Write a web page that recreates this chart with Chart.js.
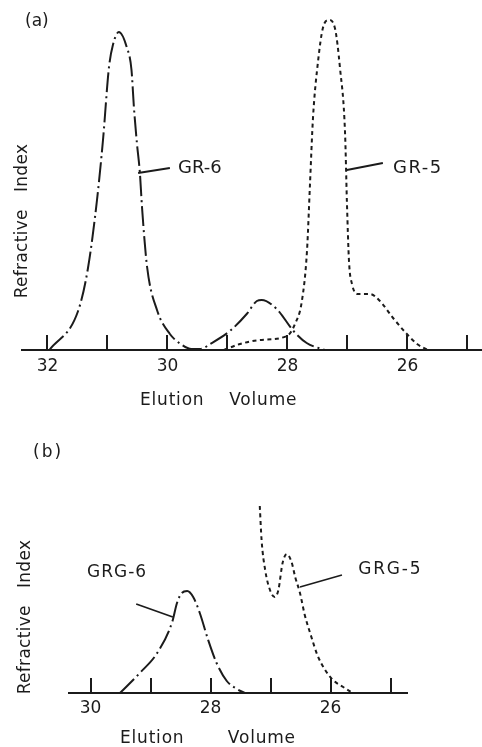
<!DOCTYPE html>
<html>
<head>
<meta charset="utf-8">
<script src="https://cdn.jsdelivr.net/npm/chart.js@4.4.1/dist/chart.umd.min.js"></script>
<style>
  html, body { margin: 0; padding: 0; background: #fff; width: 482px; height: 747px; overflow: hidden; }
  #wa { position: absolute; left: 0; top: 0; width: 482px; height: 410px; }
  #wb { position: absolute; left: 0; top: 410px; width: 482px; height: 337px; }
</style>
</head>
<body>
<div id="wa"><canvas id="ca"></canvas></div>
<div id="wb"><canvas id="cb"></canvas></div>
<script>
// ---------- Panel (a) data ----------
const gr6Vol = [31.97, 31.49, 31.325, 31.175, 31.075, 30.975, 30.91, 30.81, 30.68, 30.60, 30.56, 30.51, 30.46, 30.425, 30.34, 30.175, 29.96, 29.78, 29.60, 29.45, 29.29, 28.96, 28.68, 28.51, 28.43, 28.18, 27.90, 27.68, 27.38];
const gr6RI  = [0, 39, 82, 150, 210, 283, 305, 318, 303, 280, 243, 207, 177, 143, 83, 40, 16, 6, 1, 1, 6, 19, 36, 49, 50, 41, 19, 7, 0];

const gr5Vol = [29.06, 28.79, 28.46, 28.01, 27.875, 27.76, 27.675, 27.625, 27.575, 27.49, 27.41, 27.31, 27.21, 27.125, 27.04, 27.01, 26.975, 26.925, 26.825, 26.625, 26.46, 26.24, 26.01, 25.84, 25.66];
const gr5RI  = [0, 6, 10, 14, 26, 49, 99, 166, 232, 289, 322, 330, 322, 282, 216, 149, 89, 66, 56, 56, 49, 32, 16, 6, 0];

const ticksA      = [25, 26, 27, 28, 29, 30, 31, 32];
const tickLabelsA = ['', '26', '', '28', '', '30', '', '32'];

// ---------- Panel (b) data ----------
const grg6Vol = [29.51, 29.18, 28.89, 28.64, 28.56, 28.48, 28.39, 28.29, 28.18, 28.04, 27.90, 27.73, 27.56, 27.43];
const grg6RI  = [0, 20, 40, 71, 90, 100, 102, 96, 80, 53, 30, 12, 4, 0];

const grg5Vol = [27.18, 27.15, 27.09, 27.01, 26.93, 26.87, 26.80, 26.73, 26.65, 26.59, 26.51, 26.43, 26.33, 26.22, 26.10, 25.96, 25.79, 25.63];
const grg5RI  = [187, 153, 123, 103, 96, 103, 130, 139, 131, 116, 100, 78, 58, 38, 24, 13, 6, 0];

const ticksB      = [25, 26, 27, 28, 29, 30];
const tickLabelsB = ['', '26', '', '28', '', '30'];

// ---------- styling ----------
const INK = '#1b1b1b';
const FONT = '"DejaVu Sans", sans-serif';

function pts(xs, ys) { return xs.map((x, i) => ({ x: x, y: ys[i] })); }

const decor = {
  id: 'decor',
  afterDraw(chart, args, o) {
    const { ctx, chartArea } = chart;
    const xs = chart.scales.x, ys = chart.scales.y;
    ctx.save();
    ctx.strokeStyle = INK;
    ctx.fillStyle = INK;
    ctx.lineCap = 'butt';
    // upward tick marks
    ctx.lineWidth = 2;
    xs.ticks.forEach(t => {
      const px = Math.round(xs.getPixelForValue(t.value));
      ctx.beginPath();
      ctx.moveTo(px, chartArea.bottom);
      ctx.lineTo(px, chartArea.bottom - o.tickLen);
      ctx.stroke();
    });
    // series labels + leader lines
    o.notes.forEach(n => {
      ctx.lineWidth = 1.8;
      ctx.beginPath();
      ctx.moveTo(xs.getPixelForValue(n.from[0]), ys.getPixelForValue(n.from[1]));
      ctx.lineTo(xs.getPixelForValue(n.to[0]), ys.getPixelForValue(n.to[1]));
      ctx.stroke();
      ctx.font = n.size + 'px ' + FONT;
      ctx.letterSpacing = n.ls + 'px';
      ctx.textAlign = 'left';
      ctx.textBaseline = 'alphabetic';
      ctx.fillText(n.text, xs.getPixelForValue(n.at[0]), ys.getPixelForValue(n.at[1]));
    });
    // panel tag
    ctx.font = '17px ' + FONT;
    ctx.letterSpacing = o.tag.ls + 'px';
    ctx.textAlign = 'left';
    ctx.textBaseline = 'alphabetic';
    ctx.fillText(o.tag.text, o.tag.x, o.tag.y);
    // x axis title
    ctx.letterSpacing = '0.8px';
    ctx.fillText(o.xTitle.text, o.xTitle.x, o.xTitle.y);
    // y axis title
    ctx.letterSpacing = '0.3px';
    ctx.translate(o.yTitle.x, o.yTitle.y);
    ctx.rotate(-Math.PI / 2);
    ctx.textAlign = 'center';
    ctx.fillText(o.yTitle.text, 0, 0);
    ctx.restore();
  }
};

function makeChart(id, cfg) {
  return new Chart(document.getElementById(id), {
    type: 'line',
    data: {
      datasets: [
        { data: pts(cfg.s1x, cfg.s1y), borderColor: INK, borderWidth: 2, borderDash: [20, 4, 2, 4],
          pointRadius: 0, fill: false, cubicInterpolationMode: 'monotone' },
        { data: pts(cfg.s2x, cfg.s2y), borderColor: INK, borderWidth: 2, borderDash: [4, 3.5],
          pointRadius: 0, fill: false, cubicInterpolationMode: 'monotone' }
      ]
    },
    options: {
      responsive: true,
      maintainAspectRatio: false,
      animation: false,
      devicePixelRatio: 1,
      events: [],
      layout: { padding: cfg.pad },
      plugins: {
        legend: { display: false },
        tooltip: { enabled: false },
        decor: cfg.decor
      },
      scales: {
        x: {
          type: 'linear',
          reverse: true,
          min: cfg.xmin, max: cfg.xmax,
          afterBuildTicks: s => { s.ticks = cfg.ticks.map(v => ({ value: v })); },
          afterFit: s => { s.height = cfg.axisH; },
          grid: { display: false, drawTicks: false },
          border: { display: true, color: INK, width: 2 },
          ticks: {
            autoSkip: false, maxRotation: 0, minRotation: 0,
            padding: cfg.tickPad, color: INK,
            font: { family: FONT, size: 17 },
            callback: (v, i) => cfg.tickLabels[i]
          }
        },
        y: { display: false, min: 0, max: cfg.ymax }
      }
    },
    plugins: [decor]
  });
}

makeChart('ca', {
  s1x: gr6Vol, s1y: gr6RI, s2x: gr5Vol, s2y: gr5RI,
  ticks: ticksA, tickLabels: tickLabelsA,
  xmin: 24.758, xmax: 32.425, ymax: 340,
  pad: { top: 10, left: 22, right: 0, bottom: 0 },
  axisH: 60, tickPad: 6,
  decor: {
    tickLen: 15,
    notes: [
      { text: 'GR-6', at: [29.825, 177], from: [30.49, 177], to: [29.96, 182], size: 18, ls: 0 },
      { text: 'GR-5', at: [26.24, 177], from: [27.01, 180], to: [26.41, 187], size: 18, ls: 1.5 }
    ],
    tag: { text: '(a)', x: 25, y: 26, ls: 0 },
    xTitle: { text: 'Elution    Volume', x: 140, y: 405 },
    yTitle: { text: 'Refractive   Index', x: 27, y: 221 }
  }
});

makeChart('cb', {
  s1x: grg6Vol, s1y: grg6RI, s2x: grg5Vol, s2y: grg5RI,
  ticks: ticksB, tickLabels: tickLabelsB,
  xmin: 24.726, xmax: 30.36, ymax: 203,
  pad: { top: 80, left: 69, right: 75, bottom: 0 },
  axisH: 54, tickPad: 5,
  decor: {
    tickLen: 15,
    notes: [
      { text: 'GRG-6', at: [30.06, 116], from: [29.24, 89], to: [28.63, 76], size: 17, ls: 1 },
      { text: 'GRG-5', at: [25.54, 119], from: [26.51, 106], to: [25.81, 118], size: 17, ls: 1.8 }
    ],
    tag: { text: '(b)', x: 33, y: 47, ls: 2 },
    xTitle: { text: 'Elution       Volume', x: 120, y: 333 },
    yTitle: { text: 'Refractive   Index', x: 30, y: 207 }
  }
});
</script>
</body>
</html>
